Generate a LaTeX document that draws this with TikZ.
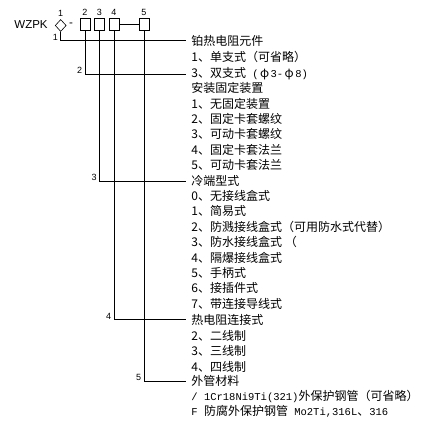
\documentclass[tikz,border=0pt]{standalone}
\usepackage{fontspec}
\setmainfont{Liberation Sans}
\newfontfamily\cjk{Noto Sans CJK SC}
\newfontfamily\latmono{Liberation Mono}
\newcommand\lat[1]{{\latmono\fontsize{10.5}{12}\selectfont #1}}
\newcommand\phiw{\makebox[12pt]{φ}}
\usetikzlibrary{shapes.geometric}
\tikzset{
	cell/.style={draw, minimum width=10pt, minimum height=12pt, inner sep=0pt},
	item/.style={anchor=west, inner xsep=5pt, inner ysep=0pt, font=\cjk\fontsize{12}{14}\selectfont},
	num/.style={inner sep=0.5pt, font=\fontsize{9}{10}\selectfont},
	bendnum/.style={num, anchor=east, xshift=-2pt, yshift=3.5pt},
}
\begin{document}
\begin{tikzpicture}[x=1pt, y=-1pt, line width=0.8pt]
	\fill[white] (0,0) rectangle (430,430);
	\useasboundingbox (0,0) rectangle (430,430);
	\node[font=\fontsize{11.5}{13}\selectfont, anchor=west, inner sep=0pt] (code) at (14,25) {WZPK};
	\node[draw, diamond, minimum width=11pt, minimum height=12pt, inner sep=0pt, line width=0.6pt] (d1) at (60.7,25.5) {};
	\node[font=\fontsize{11.5}{13}\selectfont, inner sep=0pt] (dash) at (71,24.5) {-};
	\node[cell] (b2) at (85,24) {};
	\node[cell] (b3) at (99.5,24) {};
	\node[cell] (b4) at (114,24) {};
	\node[cell] (b5) at (144,24) {};
	\draw (b4) -- (b5);
	\node[num, above=1.5pt] at (d1.north) {1};
	\node[num, above=1.5pt] at (b2.north) {2};
	\node[num, above=1.5pt] at (b3.north) {3};
	\node[num, above=1.5pt] at (b4.north) {4};
	\node[num, above=1.5pt] at (b5.north) {5};

	\node[item] (r0) at (186,40.5) {铂热电阻元件};
	\node[item] (r1) at (186,57.4) {1、单支式（可省略）};
	\node[item] (r2) at (186,74) {3、双支式\lat{~(}\phiw\lat{3-}\phiw\lat{8)}};
	\node[item] (r3) at (186,88.2) {安装固定装置};
	\node[item] (r4) at (186,103.6) {1、无固定装置};
	\node[item] (r5) at (186,119) {2、固定卡套螺纹};
	\node[item] (r6) at (186,134.4) {3、可动卡套螺纹};
	\node[item] (r7) at (186,149.8) {4、固定卡套法兰};
	\node[item] (r8) at (186,165.2) {5、可动卡套法兰};
	\node[item] (r9) at (186,181) {冷端型式};
	\node[item] (r10) at (186,196) {0、无接线盒式};
	\node[item] (r11) at (186,211.4) {1、简易式};
	\node[item] (r12) at (186,226.8) {2、防溅接线盒式（可用防水式代替）};
	\node[item] (r13) at (186,242.2) {3、防水接线盒式 （};
	\node[item] (r14) at (186,257.6) {4、隔爆接线盒式};
	\node[item] (r15) at (186,273) {5、手柄式};
	\node[item] (r16) at (186,288.4) {6、接插件式};
	\node[item] (r17) at (186,303.8) {7、带连接导线式};
	\node[item] (r18) at (186,319.5) {热电阻连接式};
	\node[item] (r19) at (186,336) {2、二线制};
	\node[item] (r20) at (186,351) {3、三线制};
	\node[item] (r21) at (186,367) {4、四线制};
	\node[item] (r22) at (186,381) {外管材料};
	\node[item] (r23) at (186,396.2) {\lat{/ 1Cr18Ni9Ti(321)}外保护钢管（可省略）};
	\node[item] (r24) at (186,411.6) {\lat{F }防腐外保护钢管\lat{ Mo2Ti,316L}、\lat{316}};

	\draw (d1.south) |- (r0.west);
	\draw (b2.south) |- (r2.west);
	\draw (b3.south) |- (r9.west);
	\draw (b4.south) |- (r18.west);
	\draw (b5.south) |- (r22.west);
	\node[bendnum] at (d1 |- r0.west) {1};
	\node[bendnum] at (b2 |- r2.west) {2};
	\node[bendnum] at (b3 |- r9.west) {3};
	\node[bendnum] at (b4 |- r18.west) {4};
	\node[bendnum] at (b5 |- r22.west) {5};
\end{tikzpicture}
\end{document}
